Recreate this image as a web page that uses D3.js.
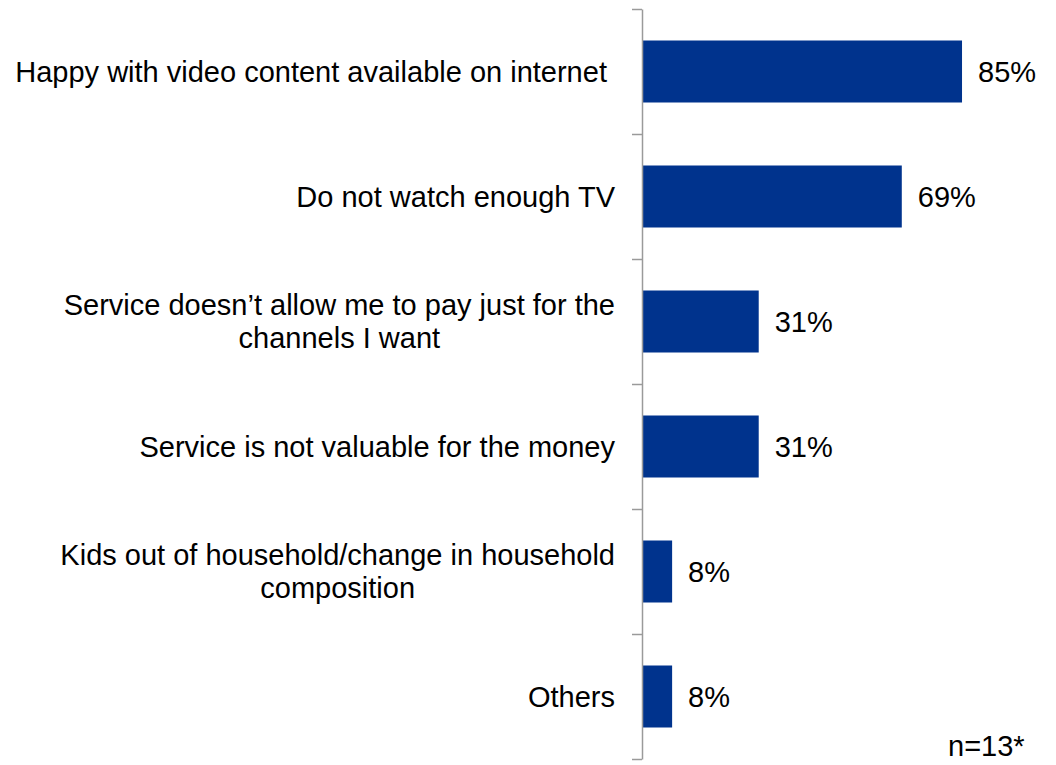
<!DOCTYPE html>
<html>
<head>
<meta charset="utf-8">
<script src="https://cdn.jsdelivr.net/npm/d3@7"></script>
<style>
  html, body { margin: 0; padding: 0; background: #fff; }
  svg { display: block; font-family: "Liberation Sans", Arial, sans-serif; }
</style>
</head>
<body>
<svg id="chart" width="1056" height="765"></svg>
<script>
// Reasons for cancelling the TV service (share of respondents)
const categories = [
  "Happy with video content available on internet\u00A0",
  "Do not watch enough TV",
  "Service doesn\u2019t allow me to pay just for the\nchannels I want",
  "Service is not valuable for the money",
  "Kids out of household/change in household\ncomposition",
  "Others"
];
const values = [85, 69, 31, 31, 8, 8];
const valueLabels = ["85%", "69%", "31%", "31%", "8%", "8%"];
const note = "n=13*";

const svg = d3.select("#chart");
const axisX = 642;
const plotTop = 9, plotBottom = 759;
const fontSize = 29;
const barColor = "#00338D";

const y = d3.scaleBand()
  .domain(categories)
  .range([plotTop, plotBottom])
  .paddingInner(0.504)
  .paddingOuter(0.252);

const x = d3.scaleLinear()
  .domain([0, 100])
  .range([axisX, axisX + 376.5]);

// Bars
svg.append("g")
  .selectAll("rect")
  .data(categories)
  .join("rect")
  .attr("x", x(0))
  .attr("y", d => y(d))
  .attr("width", (d, i) => x(values[i]) - x(0))
  .attr("height", y.bandwidth())
  .attr("fill", barColor);

// Category axis with ticks on band boundaries
const boundary = d3.scaleLinear().domain([0, categories.length]).range([plotTop, plotBottom]);
const axis = svg.append("g")
  .attr("transform", `translate(${axisX},0)`)
  .call(d3.axisLeft(boundary)
    .tickValues(d3.range(categories.length + 1))
    .tickSize(10)
    .tickSizeOuter(0)
    .tickFormat(""));
axis.selectAll("path, line")
  .attr("stroke", "#9a9a9a")
  .attr("stroke-width", 1.5);

// Category labels: block right-aligned, lines centred within the block
const labelRight = 615;
const lineH = 33;
const labelG = svg.append("g")
  .attr("font-size", fontSize)
  .attr("fill", "#000");
categories.forEach(cat => {
  const lines = cat.split("\n");
  const cy = y(cat) + y.bandwidth() / 2;
  const t = labelG.append("text").attr("text-anchor", "middle");
  const spans = lines.map((ln, k) =>
    t.append("tspan")
      .attr("y", cy + (k - (lines.length - 1) / 2) * lineH)
      .attr("dy", "0.35em")
      .text(ln));
  const maxW = d3.max(spans, s => s.node().getComputedTextLength());
  spans.forEach(s => s.attr("x", labelRight - maxW / 2));
});

// Value labels
svg.append("g")
  .attr("font-size", fontSize)
  .attr("fill", "#000")
  .selectAll("text")
  .data(categories)
  .join("text")
  .attr("x", (d, i) => x(values[i]) + 16)
  .attr("y", d => y(d) + y.bandwidth() / 2)
  .attr("dy", "0.35em")
  .text((d, i) => valueLabels[i]);

// Sample size note
svg.append("text")
  .attr("x", 948)
  .attr("y", 756)
  .attr("font-size", fontSize)
  .attr("fill", "#000")
  .text(note);
</script>
</body>
</html>
